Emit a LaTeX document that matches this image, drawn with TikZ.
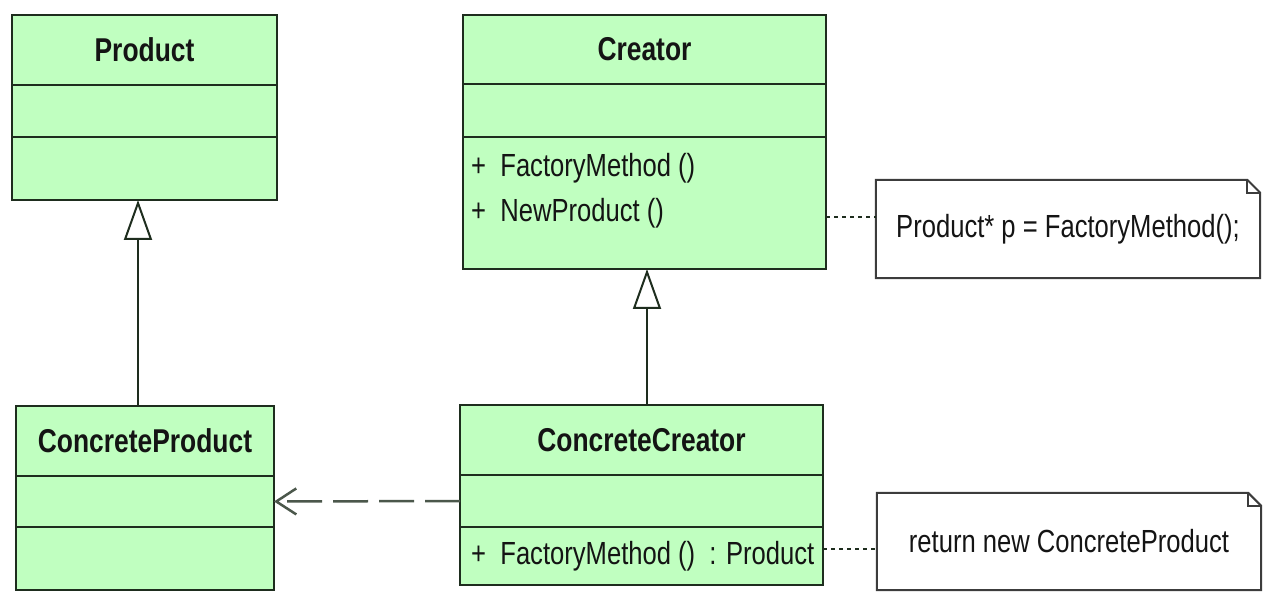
\documentclass[tikz,border=0pt]{standalone}
\usepackage{fontspec}
\setmainfont[FakeStretch=0.8]{Liberation Sans}
\usepackage{tikz}
\usetikzlibrary{positioning, arrows.meta}
\definecolor{umlgreen}{RGB}{192,255,192}
\definecolor{umlline}{RGB}{30,45,30}
\definecolor{noteline}{RGB}{60,60,60}
\definecolor{umltext}{RGB}{20,20,20}

\begin{document}
\begin{tikzpicture}[x=1pt, y=-1pt,
                box/.style={draw=umlline, fill=umlgreen, line width=2pt, inner sep=0pt, outer sep=0pt},
                classname/.style={box, minimum height=70pt, text=umltext, font=\fontsize{33}{40}\selectfont\bfseries},
                member/.style={anchor=west, inner sep=0pt, text=umltext, font=\fontsize{32}{40}\selectfont},
                notetext/.style={minimum width=384pt, inner sep=0pt, text=umltext, font=\fontsize{32}{40}\selectfont},
                inherit/.style={draw=umlline, line width=2pt, -{Triangle[open, length=40pt, width=28pt, fill=white]}},
                depend/.style={draw=umlline!80, line width=2.5pt, dash pattern=on 35pt off 11pt, -{Straight Barb[length=20pt, width=26pt]}},
                notelink/.style={draw=umlline, line width=2pt, dash pattern=on 4pt off 4pt}]
                \useasboundingbox (0,0) rectangle (1269,593);

                % Product
                \node[classname, minimum width=265pt] (prod) at (144.5,50) {Product};
                \node[box, minimum width=265pt, minimum height=52pt, below=0pt of prod] (prodAttr) {};
                \node[box, minimum width=265pt, minimum height=63pt, below=0pt of prodAttr] (prodOps) {};

                % Creator
                \node[classname, minimum width=363pt, minimum height=69pt] (creat) at (644.5,49.5) {Creator};
                \node[box, minimum width=363pt, minimum height=53pt, below=0pt of creat] (crAttr) {};
                \node[box, minimum width=363pt, minimum height=132pt, below=0pt of crAttr] (crOps) {};
                \node[member] (crM1) at (471,168) {+~~FactoryMethod ()};
                \node[member] (crM2) at (471,213) {+~~NewProduct ()};

                % ConcreteProduct
                \node[classname, minimum width=258pt] (cprod) at (145,441) {ConcreteProduct};
                \node[box, minimum width=258pt, minimum height=51pt, below=0pt of cprod] (cprodAttr) {};
                \node[box, minimum width=258pt, minimum height=63pt, below=0pt of cprodAttr] (cprodOps) {};

                % ConcreteCreator
                \node[classname, minimum width=363pt] (ccreat) at (641.5,440) {ConcreteCreator};
                \node[box, minimum width=363pt, minimum height=52pt, below=0pt of ccreat] (ccAttr) {};
                \node[box, minimum width=363pt, minimum height=58pt, below=0pt of ccAttr] (ccOps) {};
                \node[member] (ccM1) at (471,556) {+~~FactoryMethod ()~~: Product};

                % notes
                \node[notetext, minimum height=98pt] (noteA) at (1068,229) {Product* p = FactoryMethod();};
                \node[notetext, minimum height=97pt] (noteB) at (1069,541.5) {return new ConcreteProduct};
                \foreach \n in {noteA, noteB} {
                        \draw[noteline, line width=2pt] (\n.north west) -- ([xshift=-13pt]\n.north east)
                            -- ([yshift=-13pt]\n.north east) -- (\n.south east) -- (\n.south west) -- cycle;
                        \draw[noteline, line width=1.5pt] ([xshift=-13pt]\n.north east)
                            -- ([xshift=-13pt, yshift=-13pt]\n.north east) -- ([yshift=-13pt]\n.north east);
                    }

                \coordinate (crLink) at (826,217);
                \coordinate (ccLink) at (823,549);
                \draw[notelink] (crLink) -- (crLink -| noteA.west);
                \draw[notelink] (ccLink) -- (ccLink -| noteB.west);

                \draw[inherit] ([xshift=-7pt]cprod.north) -- ([xshift=-6.5pt]prodOps.south);
                \draw[inherit] ([xshift=5.5pt]ccreat.north) -- ([xshift=2.5pt]crOps.south);

                \draw[depend] (ccAttr.west) -- (cprodAttr.east);

            \end{tikzpicture}
\end{document}
